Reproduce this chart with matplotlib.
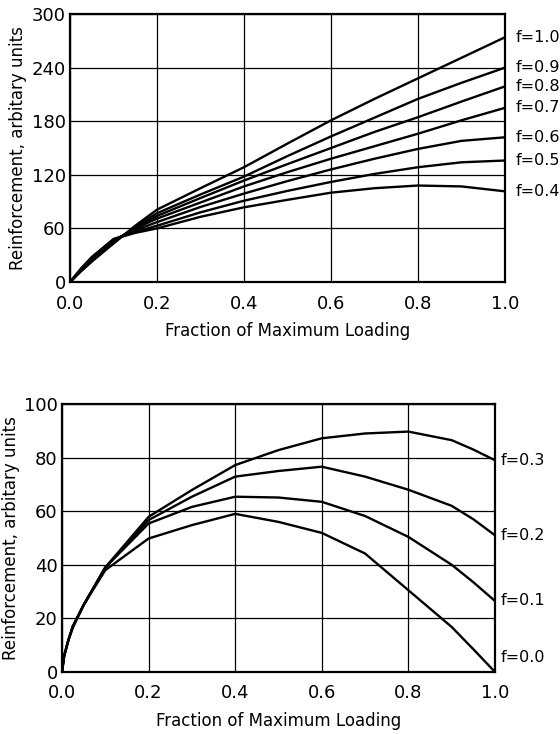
import matplotlib
matplotlib.use("Agg")
import matplotlib.pyplot as plt

# upper panel: f = 0.4 ... 1.0
x_top = [0, 0.025, 0.05, 0.1, 0.15, 0.2, 0.3, 0.4, 0.5, 0.6, 0.7, 0.8, 0.9, 1.0]
f_top = ["1.0", "0.9", "0.8", "0.7", "0.6", "0.5", "0.4"]
y_top = [
    [0, 12, 23, 43, 63, 81, 105, 128.5, 155, 181, 205, 228, 251, 274],
    [0, 12, 23, 44, 62, 77, 98, 118, 141, 163, 184, 205, 223, 240],
    [0, 13, 24, 45, 61, 74, 94, 113.6, 132, 150, 168, 184.5, 202, 219],
    [0, 13, 25, 46, 60, 71, 89, 107, 123, 138, 152, 166, 181, 195],
    [0, 14, 26, 47, 58, 67, 84, 99, 113, 126, 138, 149, 158, 162],
    [0, 14, 27, 48, 56, 63, 78, 91, 102, 112, 121, 128.5, 134, 136],
    [0, 15, 28, 48, 55, 60, 73, 83.6, 92, 100, 105, 108, 107, 101.5],
]

# lower panel: f = 0.0 ... 0.3
x_bot = [0, 0.005, 0.015, 0.025, 0.05, 0.1, 0.2, 0.3, 0.4, 0.5, 0.6, 0.7, 0.8, 0.9, 0.95, 1.0]
f_bot = ["0.3", "0.2", "0.1", "0.0"]
y_bot = [
    [0, 6, 12, 17, 25, 39, 57.9, 67.9, 77.2, 82.8, 87.2, 89, 89.7, 86.5, 83, 79],
    [0, 6, 12, 17, 25, 39, 56.7, 65.4, 72.9, 75, 76.6, 72.9, 68, 62, 57, 51],
    [0, 6, 12, 17, 25, 39, 55.4, 61.6, 65.4, 65.1, 63.5, 58.2, 50.4, 40, 33.5, 26.5],
    [0, 6, 12, 16.5, 25, 38, 49.8, 54.8, 59, 56, 51.9, 44.2, 30.5, 16.8, 8.5, 0],
]
# f=0.0 label sits a little above its end point
lab_bot = [79, 51, 26.5, 5.5]

fig = plt.figure(figsize=(5.6, 7.34), dpi=100)
ax1 = fig.add_axes([0.125, 0.6158, 0.7768, 0.3651])
ax2 = fig.add_axes([0.1107, 0.0845, 0.7732, 0.3651])

xt = [0, 0.2, 0.4, 0.6, 0.8, 1.0]
xtl = ["0.0", "0.2", "0.4", "0.6", "0.8", "1.0"]

for ax in (ax1, ax2):
    ax.set_xlim(0, 1)
    ax.set_xticks(xt)
    ax.set_xticklabels(xtl)
    ax.grid(True, color="black", linewidth=0.9)
    ax.set_axisbelow(True)
    ax.tick_params(length=0, labelsize=13)
    ax.tick_params(axis="x", pad=9)
    ax.tick_params(axis="y", pad=3)
    for s in ax.spines.values():
        s.set_linewidth(1.6)
    ax.set_xlabel("Fraction of Maximum Loading", fontsize=12, labelpad=7)
    ax.set_ylabel("Reinforcement, arbitary units", fontsize=12, labelpad=3)

for f, ys in zip(f_top, y_top):
    ax1.plot(x_top, ys, color="black", linewidth=1.7, solid_joinstyle="round")
    ax1.text(1.025, ys[-1], "f=" + f, fontsize=11.5, va="center", ha="left", clip_on=False)
ax1.set_ylim(0, 300)
ax1.set_yticks([0, 60, 120, 180, 240, 300])

for f, ys, ly in zip(f_bot, y_bot, lab_bot):
    ax2.plot(x_bot, ys, color="black", linewidth=1.7, solid_joinstyle="round")
    ax2.text(1.012, ly, "f=" + f, fontsize=11.5, va="center", ha="left", clip_on=False)
ax2.set_ylim(0, 100)
ax2.set_yticks([0, 20, 40, 60, 80, 100])

fig.savefig("out.png", dpi=100)
